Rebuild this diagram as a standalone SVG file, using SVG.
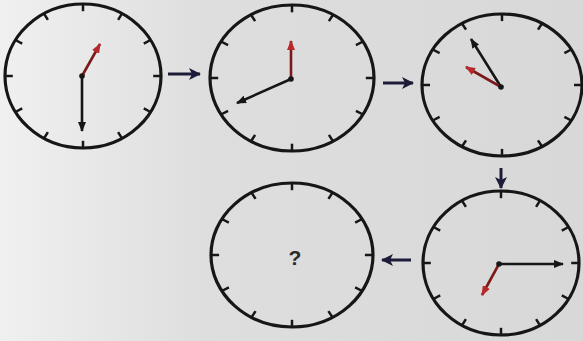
<svg xmlns="http://www.w3.org/2000/svg" xmlns:xlink="http://www.w3.org/1999/xlink" width="583" height="341" viewBox="0 0 583 341">
<style>
.rim{fill:none;stroke:#161616;stroke-width:3.2;vector-effect:non-scaling-stroke}
.tick{stroke:#161616;stroke-width:2.5;vector-effect:non-scaling-stroke}
.hand{stroke:#161616;stroke-width:2.6;fill:none}
.red{stroke:#7a1a1a;stroke-width:2.6;fill:none}
.conn{stroke:#1c1c38;stroke-width:3;fill:none}
.q{font-family:"Liberation Sans",Arial,sans-serif;font-size:21px;font-weight:bold;fill:#2a2a2a}
</style>
<defs>
<linearGradient id="bg" x1="0" y1="0" x2="1" y2="0">
<stop offset="0" stop-color="#f0f0f0"/>
<stop offset="0.35" stop-color="#dedede"/>
<stop offset="1" stop-color="#d8d8d8"/>
</linearGradient>
<marker id="hb" markerUnits="userSpaceOnUse" markerWidth="10" markerHeight="8" refX="9" refY="4" orient="auto"><path d="M0,0 L10,4 L0,8 z" fill="#161616"/></marker>
<marker id="hr" markerUnits="userSpaceOnUse" markerWidth="10" markerHeight="8" refX="9" refY="4" orient="auto"><path d="M0,0 L10,4 L0,8 z" fill="#b8282a"/></marker>
<marker id="ca" markerUnits="userSpaceOnUse" markerWidth="12" markerHeight="12" refX="11" refY="6" orient="auto"><path d="M0,0 L12,6 L0,12 L3,6 z" fill="#1c1c38"/></marker>
<g id="face">
<ellipse class="rim" cx="0" cy="0" rx="100" ry="100"/>
<line class="tick" x1="0" y1="-100" x2="0" y2="-90"/>
<line class="tick" x1="0" y1="-100" x2="0" y2="-90" transform="rotate(30)"/>
<line class="tick" x1="0" y1="-100" x2="0" y2="-90" transform="rotate(60)"/>
<line class="tick" x1="0" y1="-100" x2="0" y2="-90" transform="rotate(90)"/>
<line class="tick" x1="0" y1="-100" x2="0" y2="-90" transform="rotate(120)"/>
<line class="tick" x1="0" y1="-100" x2="0" y2="-90" transform="rotate(150)"/>
<line class="tick" x1="0" y1="-100" x2="0" y2="-90" transform="rotate(180)"/>
<line class="tick" x1="0" y1="-100" x2="0" y2="-90" transform="rotate(210)"/>
<line class="tick" x1="0" y1="-100" x2="0" y2="-90" transform="rotate(240)"/>
<line class="tick" x1="0" y1="-100" x2="0" y2="-90" transform="rotate(270)"/>
<line class="tick" x1="0" y1="-100" x2="0" y2="-90" transform="rotate(300)"/>
<line class="tick" x1="0" y1="-100" x2="0" y2="-90" transform="rotate(330)"/>
</g>
</defs>
<rect width="583" height="341" fill="url(#bg)"/>
<g id="clock1">
<use xlink:href="#face" transform="translate(83,76) scale(0.78,0.72)"/>
<line class="hand" x1="82" y1="76" x2="82" y2="131" marker-end="url(#hb)"/>
<line class="red" x1="82" y1="76" x2="100" y2="44" marker-end="url(#hr)"/>
<circle cx="82" cy="76" r="2.8" fill="#161616"/>
</g>
<g id="clock2">
<use xlink:href="#face" transform="translate(292,78) scale(0.82,0.73)"/>
<line class="hand" x1="291" y1="79" x2="237" y2="103" marker-end="url(#hb)"/>
<line class="red" x1="291" y1="79" x2="291" y2="41" marker-end="url(#hr)"/>
<circle cx="291" cy="79" r="2.8" fill="#161616"/>
</g>
<g id="clock3">
<use xlink:href="#face" transform="translate(502,85) scale(0.80,0.71)"/>
<line class="hand" x1="501" y1="87" x2="471" y2="39" marker-end="url(#hb)"/>
<line class="red" x1="501" y1="87" x2="466" y2="67" marker-end="url(#hr)"/>
<circle cx="501" cy="87" r="2.8" fill="#161616"/>
</g>
<g id="clock4">
<use xlink:href="#face" transform="translate(501,263) scale(0.78,0.72)"/>
<line class="hand" x1="499" y1="264" x2="563" y2="264" marker-end="url(#hb)"/>
<line class="red" x1="499" y1="264" x2="482" y2="295" marker-end="url(#hr)"/>
<circle cx="499" cy="264" r="2.8" fill="#161616"/>
</g>
<g id="clock5">
<use xlink:href="#face" transform="translate(292,255) scale(0.81,0.72)"/>
<text class="q" x="295" y="265" text-anchor="middle">?</text>
</g>
<g id="connectors">
<line class="conn" x1="168" y1="74" x2="200" y2="74" marker-end="url(#ca)"/>
<line class="conn" x1="383" y1="83" x2="413" y2="83" marker-end="url(#ca)"/>
<line class="conn" x1="501" y1="168" x2="501" y2="188" marker-end="url(#ca)"/>
<line class="conn" x1="411" y1="260" x2="382" y2="260" marker-end="url(#ca)"/>
</g>
</svg>
